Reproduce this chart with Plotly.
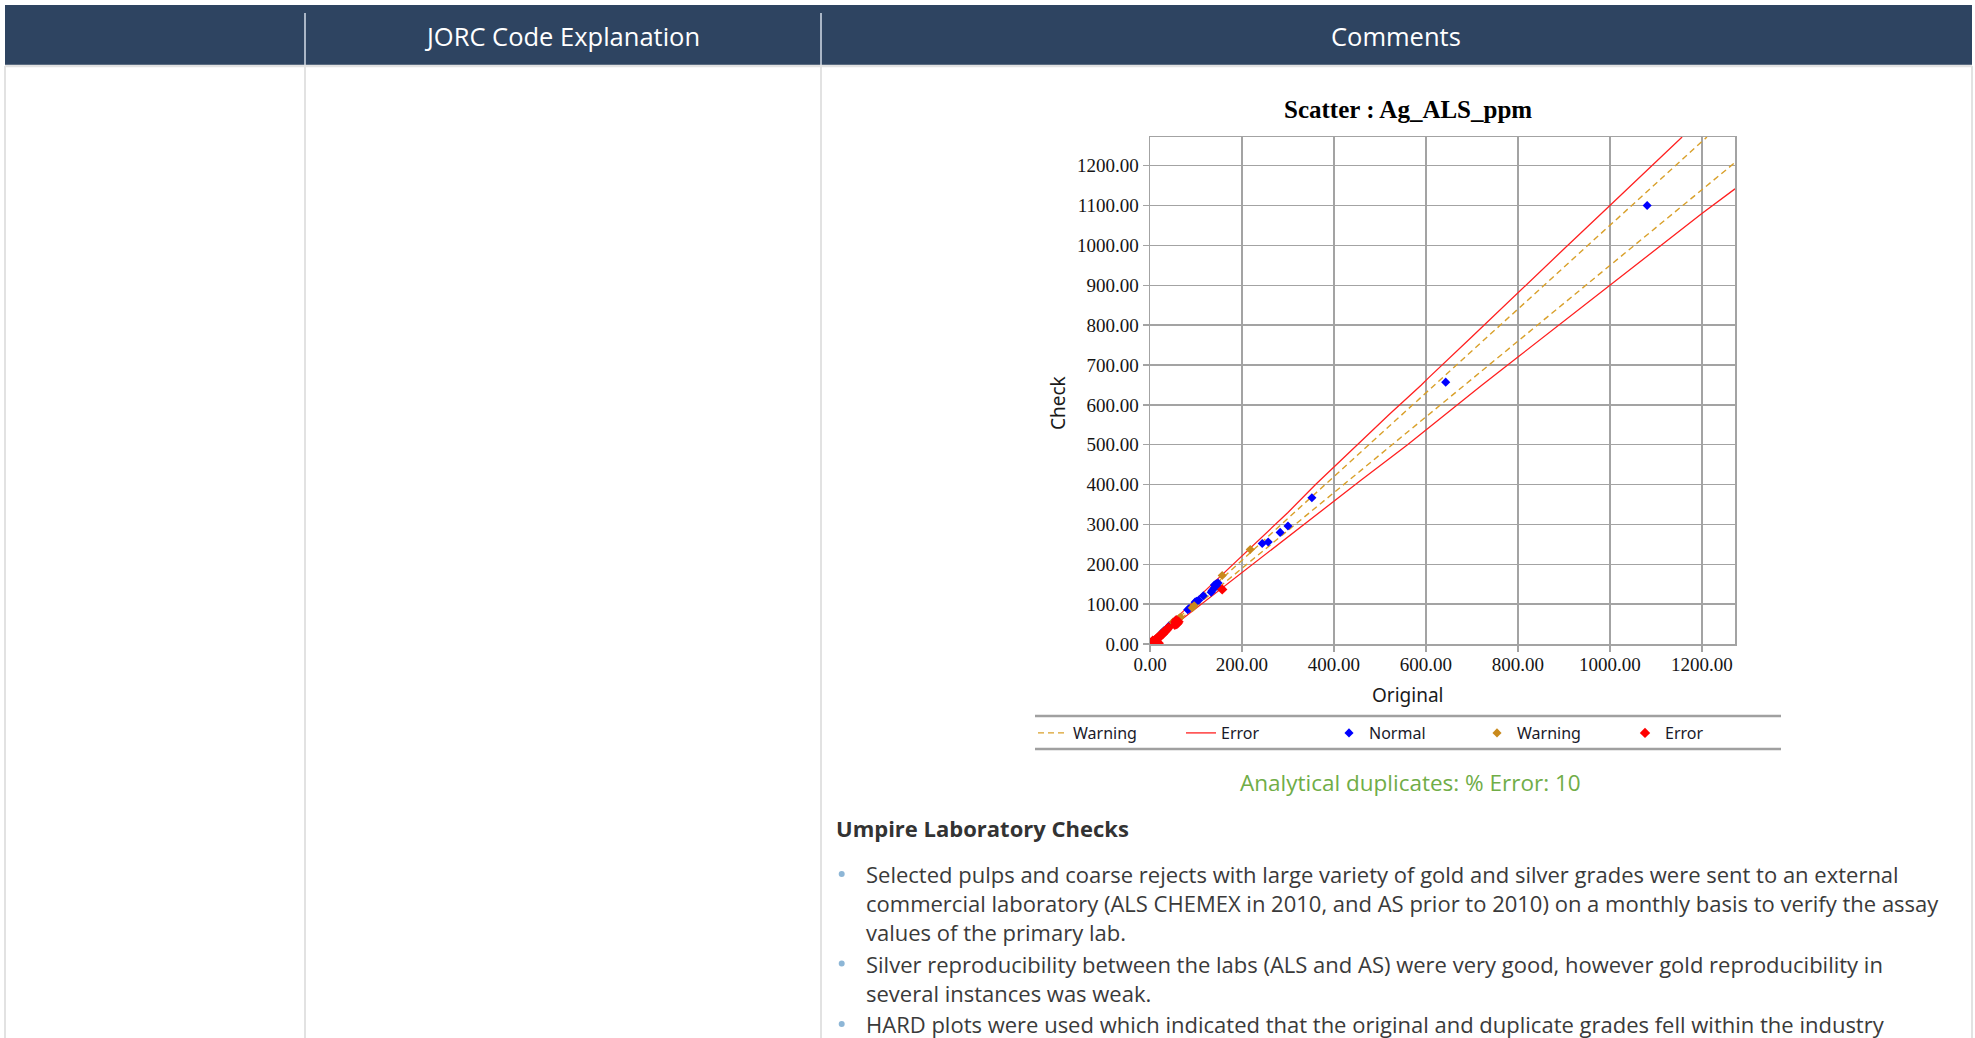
import plotly.graph_objects as go

W, H = 1975, 1038

# ---------------- data ----------------
normal_x = [1081, 643, 352, 300, 283, 257, 244, 148, 144, 140, 146, 139, 135, 133, 116, 106, 101, 98, 85, 82, 60, 55, 42, 38, 30, 25]
normal_y = [1100, 657, 367, 296, 280, 256, 252, 153, 151, 148, 145, 140, 134, 130, 121, 110, 107, 105, 89, 86, 60, 58, 46, 40, 33, 27]

warning_x = [157, 218, 96, 92, 66, 62, 50, 36, 28, 20]
warning_y = [172, 237, 96, 91, 67, 63, 55, 37, 30, 21]

error_x = [3, 5, 8, 10, 12, 14, 16, 18, 20, 22, 24, 26, 28, 30, 32, 34, 36, 38, 40, 15, 10, 6, 19, 55, 58, 60, 62, 54, 57, 157]
error_y = [4, 2, 6, 9, 8, 13, 15, 14, 19, 21, 22, 26, 25, 29, 31, 33, 35, 38, 41, 5, 3, 8, 2, 55, 50, 52, 56, 48, 60, 137]

err_up_x = [0, 50, 100, 160, 200, 230, 265, 300, 360, 440, 520, 590, 605, 700, 800, 900, 1000, 1157]
err_up_y = [0, 58, 112, 178, 222, 255, 292, 330, 400, 488, 576, 650, 667, 771, 882, 991, 1100, 1272]
err_lo_x = [0, 50, 100, 160, 230, 300, 380, 460, 560, 640, 720, 800, 900, 1000, 1100, 1200, 1272]
err_lo_y = [0, 45, 90, 143, 205, 268, 340, 412, 500, 575, 648, 720, 810, 900, 990, 1080, 1142]

warn_up_x = [0, 200, 400, 600, 800, 1000, 1211]
warn_up_y = [0, 210, 420, 630, 840, 1050, 1272]
warn_lo_x = [0, 200, 400, 600, 800, 1000, 1200, 1272]
warn_lo_y = [0, 190, 380, 570, 760, 950, 1140, 1208]

x_ticks = [0, 200, 400, 600, 800, 1000, 1200]
x_tick_labels = ["0.00", "200.00", "400.00", "600.00", "800.00", "1000.00", "1200.00"]
y_ticks = [0, 100, 200, 300, 400, 500, 600, 700, 800, 900, 1000, 1100, 1200]
y_tick_labels = ["0.00", "100.00", "200.00", "300.00", "400.00", "500.00", "600.00",
                 "700.00", "800.00", "900.00", "1000.00", "1100.00", "1200.00"]

header_labels = ["JORC Code Explanation", "Comments"]
chart_title = "Scatter : Ag_ALS_ppm"
x_title = "Original"
y_title = "Check"
note_text = "Analytical duplicates: % Error: 10"
section_title = "Umpire Laboratory Checks"
body_lines = [
    "Selected pulps and coarse rejects with large variety of gold and silver grades were sent to an external",
    "commercial laboratory (ALS CHEMEX in 2010, and AS prior to 2010) on a monthly basis to verify the assay",
    "values of the primary lab.",
    "Silver reproducibility between the labs (ALS and AS) were very good, however gold reproducibility in",
    "several instances was weak.",
    "HARD plots were used which indicated that the original and duplicate grades fell within the industry",
]
bullet_lines = [0, 3, 5]


def px(x):
    return x / W


def py(y):
    return 1 - y / H


GRID = "#A3A3A3"
TABLE_LINE = "#E2E2E2"
HEADER = "#2E4461"
BODY_FONT = "Open Sans"

fig = go.Figure()

fig.add_trace(go.Scatter(
    x=warn_up_x + [None] + warn_lo_x, y=warn_up_y + [None] + warn_lo_y,
    mode="lines", name="Warning",
    line=dict(color="#D9A02A", width=1.4, dash="6px,4px"),
))
fig.add_trace(go.Scatter(
    x=err_up_x + [None] + err_lo_x, y=err_up_y + [None] + err_lo_y,
    mode="lines", name="Error",
    line=dict(color="#FF2020", width=1.3),
))
fig.add_trace(go.Scatter(
    x=normal_x, y=normal_y, mode="markers", name="Normal",
    marker=dict(symbol="diamond", size=7, color="#0000FF"),
))
fig.add_trace(go.Scatter(
    x=warning_x, y=warning_y, mode="markers", name="Warning",
    marker=dict(symbol="diamond", size=7, color="#C98A1C"),
))
fig.add_trace(go.Scatter(
    x=error_x, y=error_y, mode="markers", name="Error",
    marker=dict(symbol="diamond", size=8, color="#FF0000"),
))

axis_common = dict(
    showgrid=True, gridcolor=GRID, gridwidth=1.5,
    showline=True, linecolor=GRID, linewidth=1.5, mirror=True,
    ticks="outside", ticklen=6, tickwidth=1.5, tickcolor=GRID,
    zeroline=False, automargin=False,
    tickfont=dict(family="Liberation Serif", size=19, color="#151515"),
    fixedrange=True,
)

fig.update_layout(
    width=W, height=H, autosize=False,
    margin=dict(l=0, r=0, t=0, b=0, pad=0, autoexpand=False),
    paper_bgcolor="white", plot_bgcolor="white",
    hovermode=False,
    xaxis=dict(domain=[px(1150), px(1735)], range=[0, 1272],
               tickvals=x_ticks, ticktext=x_tick_labels, ticklabelstandoff=-3,
               **axis_common),
    yaxis=dict(domain=[py(644), py(137)], range=[0, 1272],
               tickvals=y_ticks, ticktext=y_tick_labels, **axis_common),
    showlegend=True,
    legend=dict(
        orientation="h", x=px(1033), xanchor="left", y=py(733), yanchor="middle",
        bgcolor="rgba(0,0,0,0)", borderwidth=0,
        entrywidth=103, entrywidthmode="pixels",
        font=dict(family="Noto Sans", size=16, color="#1a1a2a"),
        traceorder="normal",
    ),
)

shapes = []
shapes.append(dict(type="rect", xref="paper", yref="paper",
                   x0=px(5), x1=px(1972), y0=py(65), y1=py(5),
                   fillcolor=HEADER, line=dict(width=0), layer="below"))
for xs in (305, 821):
    shapes.append(dict(type="line", xref="paper", yref="paper",
                       x0=px(xs), x1=px(xs), y0=py(13), y1=py(65),
                       line=dict(color="#D5DDE8", width=1.5)))
shapes.append(dict(type="line", xref="paper", yref="paper",
                   x0=px(5), x1=px(1972), y0=py(66), y1=py(66),
                   line=dict(color=TABLE_LINE, width=2.5)))
for xs in (5, 305, 821, 1972):
    shapes.append(dict(type="line", xref="paper", yref="paper",
                       x0=px(xs), x1=px(xs), y0=py(66), y1=py(1040),
                       line=dict(color=TABLE_LINE, width=2)))
for ys in (716, 749):
    shapes.append(dict(type="line", xref="paper", yref="paper",
                       x0=px(1035), x1=px(1781), y0=py(ys), y1=py(ys),
                       line=dict(color="#A0A0A0", width=2.5)))
body_y = [874, 903, 932, 963.5, 992.5, 1024]
for i in bullet_lines:
    yc = body_y[i]
    shapes.append(dict(type="circle", xref="paper", yref="paper",
                       x0=px(838.7), x1=px(844.7), y0=py(yc + 3), y1=py(yc - 3),
                       fillcolor="#8DB6D6", line=dict(width=0)))
fig.update_layout(shapes=shapes)

ann = []
for label, xc in zip(header_labels, (562, 1396)):
    ann.append(dict(text=label, x=px(xc), y=py(36), xref="paper", yref="paper",
                    showarrow=False, xanchor="center", yanchor="middle",
                    font=dict(family=BODY_FONT, size=25.5, color="white")))
ann.append(dict(text="<b>" + chart_title + "</b>", x=px(1408), y=py(110), xref="paper", yref="paper",
                showarrow=False, xanchor="center", yanchor="middle",
                font=dict(family="Liberation Serif", size=25, color="black")))
ann.append(dict(text=y_title, x=px(1058), y=py(403), xref="paper", yref="paper",
                showarrow=False, xanchor="center", yanchor="middle", textangle=-90,
                font=dict(family="Noto Sans", size=19, color="#1a1a1a")))
ann.append(dict(text=x_title, x=px(1407), y=py(695), xref="paper", yref="paper",
                showarrow=False, xanchor="center", yanchor="middle",
                font=dict(family="Noto Sans", size=19, color="#1a1a1a")))
ann.append(dict(text=note_text, x=px(1410), y=py(782), xref="paper", yref="paper",
                showarrow=False, xanchor="center", yanchor="middle",
                font=dict(family=BODY_FONT, size=22.5, color="#70AD47")))
ann.append(dict(text="<b>" + section_title + "</b>", x=px(834), y=py(827.5), xref="paper", yref="paper",
                showarrow=False, xanchor="left", yanchor="middle",
                font=dict(family=BODY_FONT, size=22, color="#333333")))
for line, yc in zip(body_lines, body_y):
    ann.append(dict(text=line, x=px(864), y=py(yc), xref="paper", yref="paper",
                    showarrow=False, xanchor="left", yanchor="middle",
                    font=dict(family=BODY_FONT, size=22, color="#3a3a3a")))
fig.update_layout(annotations=ann)

fig.write_html(
    "out.html",
    config={"responsive": False, "displayModeBar": False, "staticPlot": True},
    post_script="document.body.style.margin='0';document.body.style.overflow='hidden';",
)
